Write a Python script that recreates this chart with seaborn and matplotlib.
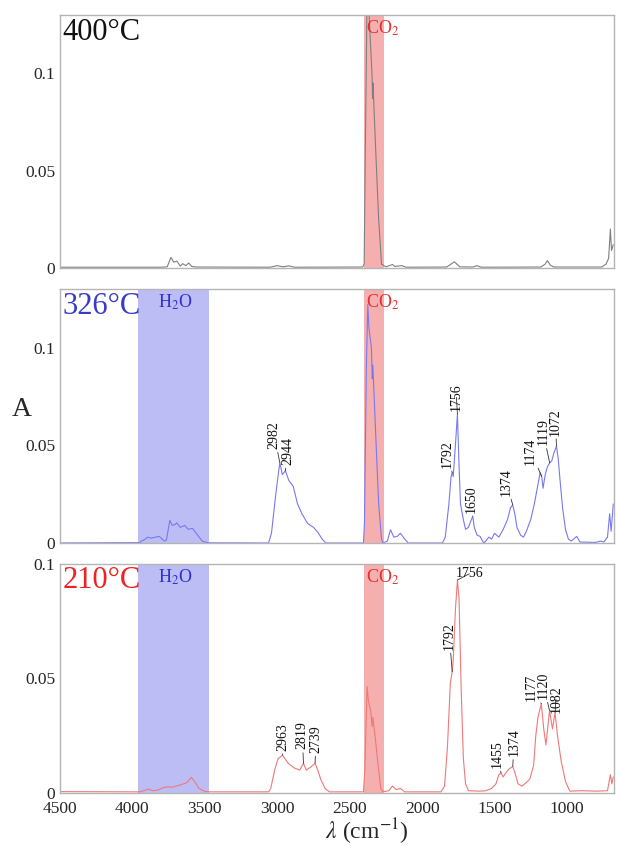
import matplotlib
matplotlib.use('Agg')
import matplotlib.pyplot as plt
import numpy as np
import pandas as pd
import seaborn as sns
from matplotlib.ticker import MultipleLocator, FixedLocator

# Spectra: wavenumber (cm-1) and absorbance
wn_400 = [4500, 3800, 3760, 3734, 3715, 3693, 3670, 3653, 3630, 3612, 3590, 3560,
          3050, 3000, 2960, 2920, 2880, 2410, 2400, 2392, 2380, 2367, 2345, 2342,
          2339, 2320, 2300, 2280, 2250, 2204, 2190, 2140, 2110, 1830, 1777, 1740,
          1650, 1622, 1590, 1180, 1150, 1135, 1115, 1090, 760, 730, 712, 700, 692, 680]
a_400 = [0.0004, 0.0004, 0.0006, 0.0055, 0.003, 0.0035, 0.001, 0.0022, 0.0012, 0.0026, 0.0008, 0.0005,
         0.0004, 0.0012, 0.0006, 0.0011, 0.0004, 0.0005, 0.002, 0.06, 0.14, 0.132, 0.098, 0.087,
         0.095, 0.06, 0.025, 0.002, 0.0006, 0.0018, 0.0008, 0.0012, 0.0004, 0.0005, 0.0032, 0.0006,
         0.0005, 0.0012, 0.0004, 0.0005, 0.002, 0.0038, 0.0015, 0.0005, 0.0005, 0.002, 0.005, 0.02, 0.009, 0.012]

wn_326 = [4500, 3950, 3937, 3910, 3896, 3870, 3840, 3815, 3780, 3765, 3742, 3725, 3705,
          3693, 3670, 3639, 3615, 3585, 3560, 3517, 3477, 3060, 3040, 3010, 2990, 2982,
          2965, 2944, 2920, 2890, 2860, 2830, 2790, 2750, 2720, 2690, 2665, 2405, 2398,
          2385, 2375, 2367, 2350, 2344, 2340, 2320, 2300, 2280, 2270, 2240, 2218, 2195,
          2170, 2150, 2120, 2096, 1860, 1840, 1815, 1800, 1792, 1785, 1770, 1756, 1745,
          1735, 1715, 1700, 1680, 1665, 1650, 1640, 1620, 1600, 1575, 1560, 1540, 1520,
          1500, 1470, 1440, 1410, 1390, 1374, 1360, 1345, 1320, 1300, 1280, 1250, 1225,
          1200, 1185, 1174, 1165, 1150, 1135, 1119, 1105, 1090, 1072, 1060, 1045, 1030,
          1010, 990, 970, 932, 910, 800, 770, 745, 720, 705, 695, 680]
a_326 = [0.0, 0.0002, 0.001, 0.002, 0.003, 0.0025, 0.003, 0.0034, 0.001, 0.0015, 0.0116, 0.009, 0.0095,
         0.0103, 0.008, 0.009, 0.007, 0.0075, 0.005, 0.0009, 0.0001, 0.0, 0.005, 0.025, 0.037, 0.041,
         0.035, 0.037, 0.032, 0.029, 0.02, 0.015, 0.01, 0.008, 0.0055, 0.002, 0.0, 0.0, 0.01,
         0.09, 0.122, 0.11, 0.10, 0.084, 0.091, 0.055, 0.02, 0.002, 0.0, 0.001, 0.0068, 0.003,
         0.0035, 0.005, 0.002, 0.0, 0.0, 0.003, 0.02, 0.034, 0.036, 0.034, 0.05, 0.066, 0.04,
         0.02, 0.012, 0.007, 0.008, 0.011, 0.0137, 0.008, 0.004, 0.0034, 0.0, 0.001, 0.003, 0.002,
         0.005, 0.003, 0.007, 0.012, 0.018, 0.0195, 0.015, 0.008, 0.004, 0.003, 0.006, 0.012, 0.02,
         0.03, 0.036, 0.034, 0.028, 0.035, 0.039, 0.041, 0.042, 0.046, 0.0496, 0.043, 0.03, 0.018,
         0.007, 0.002, 0.001, 0.0034, 0.0005, 0.0003, 0.001, 0.0005, 0.003, 0.015, 0.006, 0.02]

wn_210 = [4500, 3950, 3937, 3890, 3860, 3830, 3775, 3720, 3666, 3625, 3593, 3570, 3540,
          3500, 3470, 3060, 3045, 3018, 2995, 2963, 2925, 2885, 2845, 2819, 2800, 2765,
          2739, 2720, 2700, 2670, 2640, 2405, 2395, 2380, 2370, 2355, 2345, 2340, 2325,
          2300, 2285, 2270, 2230, 2205, 2180, 2150, 2120, 1870, 1845, 1825, 1805, 1792,
          1785, 1770, 1756, 1745, 1730, 1715, 1700, 1680, 1600, 1560, 1520, 1490, 1470,
          1455, 1440, 1420, 1400, 1374, 1355, 1338, 1310, 1284, 1257, 1230, 1215, 1200,
          1177, 1160, 1145, 1120, 1100, 1082, 1065, 1040, 1010, 980, 900, 800, 720, 700, 690, 680]
a_210 = [0.0006, 0.0005, 0.0007, 0.0017, 0.001, 0.0012, 0.0026, 0.0026, 0.0036, 0.0045, 0.0068, 0.005, 0.002,
         0.0007, 0.0005, 0.0005, 0.002, 0.01, 0.015, 0.0165, 0.013, 0.011, 0.01, 0.013, 0.01, 0.0115,
         0.013, 0.01, 0.006, 0.002, 0.0005, 0.0005, 0.01, 0.0465, 0.04, 0.036, 0.029, 0.033, 0.025,
         0.01, 0.002, 0.0005, 0.001, 0.003, 0.0015, 0.002, 0.0005, 0.0005, 0.003, 0.02, 0.048, 0.053,
         0.058, 0.08, 0.093, 0.085, 0.045, 0.015, 0.004, 0.001, 0.0008, 0.001, 0.002, 0.004, 0.008,
         0.0087, 0.007, 0.009, 0.0105, 0.0116, 0.008, 0.004, 0.003, 0.0044, 0.006, 0.012, 0.025, 0.033,
         0.039, 0.028, 0.021, 0.036, 0.028, 0.035, 0.025, 0.014, 0.005, 0.0008, 0.001, 0.0008, 0.001, 0.008, 0.004, 0.007]

temps = ['400°C', '326°C', '210°C']
peaks_326 = ['2982', '2944', '1792', '1756', '1650', '1374', '1174', '1119', '1072']
peaks_210 = ['2963', '2819', '2739', '1792', '1756', '1455', '1374', '1177', '1120', '1082']
h2o_band = (3960, 3470)
co2_band = (2400, 2262)

# label placement (text centre wavenumber, text bottom absorbance)
pos_326 = [(3020, 0.048), (2925, 0.040), (1825, 0.0385), (1763, 0.0675), (1663, 0.0154),
           (1419, 0.024), (1250, 0.040), (1165, 0.050), (1080, 0.055)]
pos_210 = [(2962, 0.0185), (2827, 0.019), (2732, 0.0175), (1812, 0.0625), (1770, 0.0957),
           (1479, 0.011), (1365, 0.016), (1248, 0.040), (1162, 0.041), (1076, 0.035)]

sns.set_style('white')
plt.rcParams['font.family'] = ['Liberation Serif', 'DejaVu Serif']
plt.rcParams['mathtext.fontset'] = 'stix'

W, H = 617, 846
fig = plt.figure(figsize=(W / 100, H / 100), dpi=100)


def box(l, t, r, b):
    return [l / W, 1 - b / H, (r - l) / W, (b - t) / H]


axes = [fig.add_axes(box(60, 15, 614, 268)),
        fig.add_axes(box(60, 289, 614, 543)),
        fig.add_axes(box(60, 564, 614, 793))]

spectra = [(wn_400, a_400), (wn_326, a_326), (wn_210, a_210)]
line_colors = ['#7f7f7f', '#7878f0', '#f07878']
title_colors = ['#111111', '#3a3ac8', '#ee2222']
ymaxes = [0.13, 0.13, 0.1]

for i, ax in enumerate(axes):
    wn, a = spectra[i]
    df = pd.DataFrame({'wn': wn, 'A': a})
    ax.axvspan(co2_band[1], co2_band[0], color='#f5a6a6', alpha=0.9, lw=0, zorder=0)
    if i > 0:
        ax.axvspan(h2o_band[1], h2o_band[0], color='#bdbdf6', lw=0, zorder=0)
        ax.text(3825, ymaxes[i] * 0.985, r'H$_2$O', color='#3030d0', fontsize=13,
                va='top', ha='left')
    sns.lineplot(data=df, x='wn', y='A', ax=ax, color=line_colors[i], lw=0.8,
                 estimator=None, sort=False)
    ax.text(2385, ymaxes[i] * 0.985, r'CO$_2$', color='#e03030', fontsize=13,
            va='top', ha='left')
    ax.text(0.004, 0.99, temps[i], transform=ax.transAxes, color=title_colors[i],
            fontsize=22, va='top', ha='left')

    ax.set_xlim(4500, 675)
    ax.set_ylim(0, ymaxes[i])
    ax.yaxis.set_major_locator(FixedLocator([0, 0.05, 0.1]))
    ax.yaxis.set_minor_locator(MultipleLocator(0.025))
    ax.set_yticklabels(['0', '0.05', '0.1'])
    ax.xaxis.set_major_locator(MultipleLocator(500))
    ax.set_xlabel('')
    ax.set_ylabel('')
    ax.tick_params(axis='both', which='both', direction='out', length=2,
                   width=0.6, color='#999999', labelsize=12.5, pad=1.5)
    ax.tick_params(axis='y', which='minor', length=1.5)
    ax.tick_params(axis='x', pad=3.5)
    if i < 2:
        ax.tick_params(axis='x', labelbottom=False, length=0)
    for s in ax.spines.values():
        s.set_color('#b4b4b4')
        s.set_linewidth(1.0)


def annotate_peaks(ax, wn, a, labels, positions):
    for lab, (tx, ty) in zip(labels, positions):
        px = float(lab)
        py = np.interp(px, wn[::-1], a[::-1])
        rot = 0 if ty > 0.095 else 90
        ax.annotate(lab, xy=(px, py), xytext=(tx, ty), textcoords='data',
                    rotation=rot, ha='left' if rot == 0 else 'center',
                    va='center' if rot == 0 else 'bottom', fontsize=10, color='#111111',
                    arrowprops=dict(arrowstyle='-', color='#333333', lw=0.6,
                                    shrinkA=0, shrinkB=0))


annotate_peaks(axes[1], wn_326, a_326, peaks_326, pos_326)
annotate_peaks(axes[2], wn_210, a_210, peaks_210, pos_210)

fig.text(22 / W, 1 - 410 / H, 'A', fontsize=20, ha='center', va='center')
fig.text(367 / W, 1 - 839 / H, r'$\lambda$ (cm$^{-1}$)', fontsize=17,
         ha='center', va='baseline')

fig.savefig('out.png', dpi=100)
